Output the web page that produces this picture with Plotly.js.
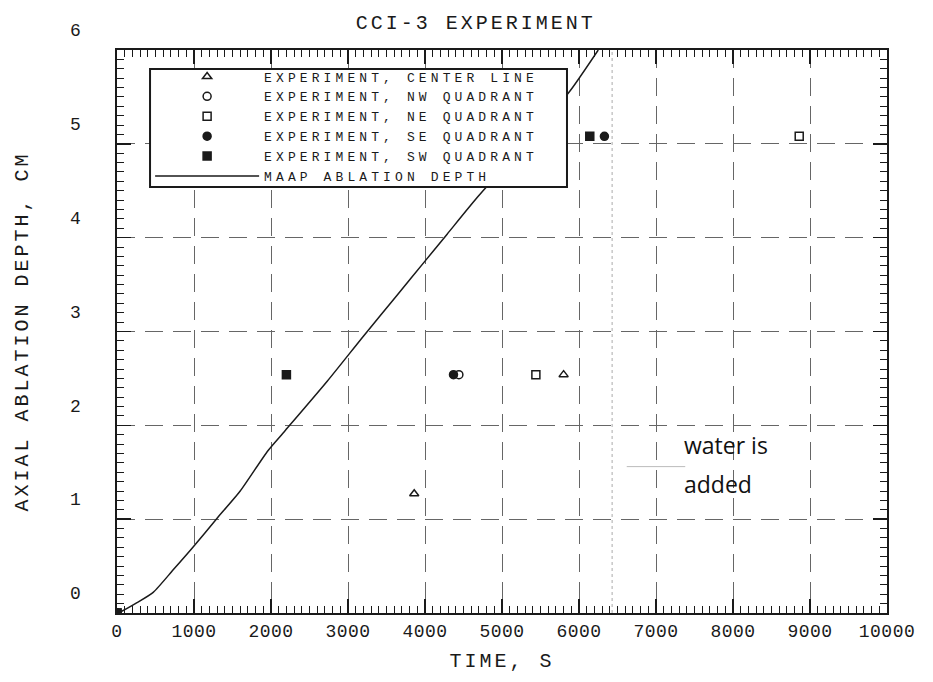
<!DOCTYPE html>
<html>
<head>
<meta charset="utf-8">
<script src="https://cdn.plot.ly/plotly-3.0.1.min.js"></script>
<style>
  html, body { margin: 0; padding: 0; background: #fff; }
  #chart { width: 933px; height: 682px; }
  .gtitle, .xtitle, .ytitle { letter-spacing: 3px; }
  text.legendtext { letter-spacing: 4.1px; }
  .xtick text, .ytick text { letter-spacing: 0.5px; }
</style>
</head>
<body>
<div id="chart"></div>
<script>
// ---- data ----
const chartTitle = "CCI-3 EXPERIMENT";
const xTitle = "TIME, S";
const yTitle = "AXIAL ABLATION DEPTH, CM";

const xTickVals = [0, 1000, 2000, 3000, 4000, 5000, 6000, 7000, 8000, 9000, 10000];
const xTickText = ["0", "1000", "2000", "3000", "4000", "5000", "6000", "7000", "8000", "9000", "10000"];
const yTickVals = [0, 1, 2, 3, 4, 5, 6];
const yTickText = ["0", "1", "2", "3", "4", "5", "6"];

const seriesNames = [
  "EXPERIMENT, CENTER LINE",
  "EXPERIMENT, NW QUADRANT",
  "EXPERIMENT, NE QUADRANT",
  "EXPERIMENT, SE QUADRANT",
  "EXPERIMENT, SW QUADRANT",
  "MAAP ABLATION DEPTH"
];

const centerTime = [0, 3860, 5800];
const centerDepth = [0, 1.27, 2.54];

const nwTime = [0, 4440];
const nwDepth = [0, 2.54];

const neTime = [0, 5440, 8860];
const neDepth = [0, 2.54, 5.08];

const seTime = [0, 4370, 6330];
const seDepth = [0, 2.54, 5.08];

const swTime = [0, 2200, 6140];
const swDepth = [0, 2.54, 5.08];

const maapTime  = [0, 40, 260, 470, 730, 975, 1300, 1600, 1960, 2180, 2730, 3200, 3640, 4000, 4290, 4680, 5300, 5880, 6250];
const maapDepth = [0, 0.01, 0.11, 0.22, 0.46, 0.69, 1.01, 1.30, 1.73, 1.94, 2.47, 2.95, 3.39, 3.75, 4.04, 4.43, 5.00, 5.56, 6.00];

const waterAddedTime = 6430;
const noteLine1 = "water is";
const noteLine2 = "added";

// ---- chart ----
const monoFont = "Liberation Mono, DejaVu Sans Mono, monospace";
const ink = "#1a1a1a";

function markerTrace(name, xs, ys, symbol) {
  return {
    type: "scatter", mode: "markers", name: name,
    x: xs, y: ys,
    marker: { symbol: symbol, size: 8, color: ink, line: { color: ink, width: 1.5 } }
  };
}

const traces = [
  markerTrace(seriesNames[0], centerTime, centerDepth, "triangle-up-open"),
  markerTrace(seriesNames[1], nwTime, nwDepth, "circle-open"),
  markerTrace(seriesNames[2], neTime, neDepth, "square-open"),
  markerTrace(seriesNames[3], seTime, seDepth, "circle"),
  markerTrace(seriesNames[4], swTime, swDepth, "square"),
  {
    type: "scatter", mode: "lines", name: seriesNames[5],
    x: maapTime, y: maapDepth,
    line: { color: ink, width: 1.5, shape: "spline", smoothing: 0.6 }
  }
];

const axisCommon = {
  showline: true, linecolor: ink, linewidth: 2, mirror: "ticks",
  ticks: "inside", ticklen: 14, tickwidth: 1.5, tickcolor: ink,
  showgrid: true, gridcolor: "#666", gridwidth: 1, griddash: "18px,10px",
  zeroline: false,
  tickfont: { family: monoFont, size: 18, color: ink }
};

const layout = {
  width: 933, height: 682,
  paper_bgcolor: "#fff", plot_bgcolor: "#fff",
  margin: { l: 117, r: 46, t: 50, b: 69 },
  showlegend: true,
  title: {
    text: chartTitle, font: { family: monoFont, size: 20, color: ink },
    xref: "container", x: 0.51, xanchor: "center",
    yref: "container", y: 0.968, yanchor: "middle"
  },
  xaxis: Object.assign({}, axisCommon, {
    range: [0, 10000], tickvals: xTickVals, ticktext: xTickText,
    minor: { dtick: 100, ticks: "inside", ticklen: 7, tickwidth: 1, tickcolor: ink, showgrid: false },
    title: { text: xTitle, font: { family: monoFont, size: 20, color: ink }, standoff: 12 }
  }),
  yaxis: Object.assign({}, axisCommon, {
    range: [0, 6], tickvals: yTickVals, ticktext: yTickText,
    ticklabelstandoff: 30, ticklabelshift: -20,
    minor: { dtick: 0.1, ticks: "inside", ticklen: 7, tickwidth: 1, tickcolor: ink, showgrid: false },
    title: { text: yTitle, font: { family: monoFont, size: 20, color: ink }, standoff: 36 }
  }),
  legend: {
    x: 0.043, y: 0.9796, xanchor: "left", yanchor: "top",
    bgcolor: "rgba(0,0,0,0)", borderwidth: 0,
    font: { family: monoFont, size: 13, color: ink },
    itemwidth: 104, tracegroupgap: 0
  },
  shapes: [
    {
      type: "line", xref: "x", yref: "paper",
      x0: waterAddedTime, x1: waterAddedTime, y0: 0, y1: 1,
      line: { color: "#aaa", width: 1, dash: "dot" }, layer: "below"
    },
    {
      // legend frame
      type: "rect", xref: "paper", yref: "paper",
      x0: 0.0429, x1: 0.5844, y0: 0.7567, y1: 0.9663,
      fillcolor: "#fff", line: { color: ink, width: 2 }, layer: "above"
    }
  ],
  annotations: [
    {
      xref: "x", yref: "y", x: 6620, y: 1.56, ax: 60, ay: 0, axref: "pixel", ayref: "pixel",
      text: "", showarrow: true, arrowhead: 0, arrowwidth: 1, arrowcolor: "#bbb"
    },
    {
      xref: "x", yref: "y", x: 7340, y: 1.79, xanchor: "left", yanchor: "middle",
      text: noteLine1, showarrow: false,
      font: { family: "Open Sans, Noto Sans, sans-serif", size: 23, color: "#111" }
    },
    {
      xref: "x", yref: "y", x: 7340, y: 1.38, xanchor: "left", yanchor: "middle",
      text: noteLine2, showarrow: false,
      font: { family: "Open Sans, Noto Sans, sans-serif", size: 23, color: "#111" }
    }
  ]
};

Plotly.newPlot("chart", traces, layout, { displayModeBar: false, staticPlot: true });
</script>
</body>
</html>
